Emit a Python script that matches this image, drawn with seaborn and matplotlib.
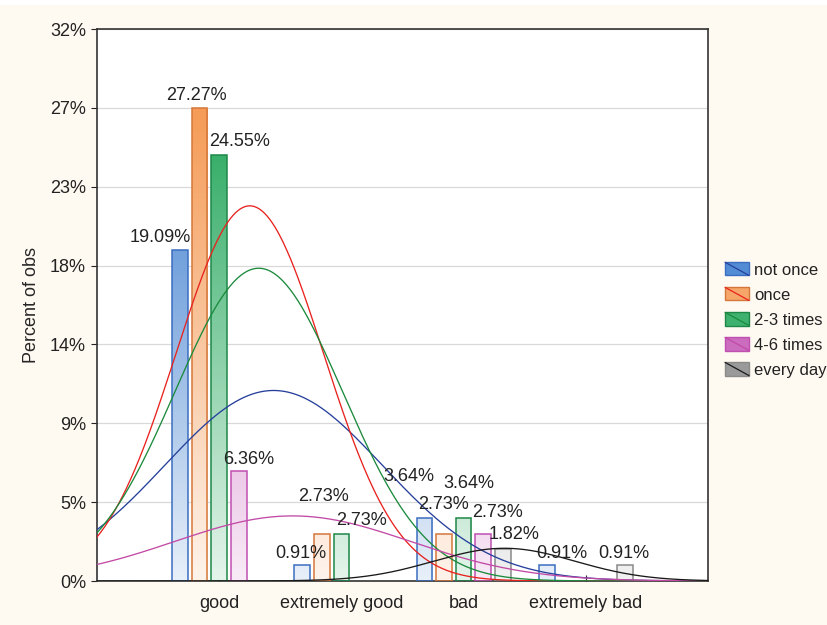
import numpy as np
import pandas as pd
import matplotlib
matplotlib.use("Agg")
import matplotlib.pyplot as plt
from matplotlib.colors import LinearSegmentedColormap, to_rgb
from matplotlib.legend_handler import HandlerBase
from matplotlib.patches import Rectangle
from matplotlib.lines import Line2D
import seaborn as sns

# -----------------------------------
# Data (percent of obs)
# -----------------------------------

categories = ["good", "extremely good", "bad", "extremely bad"]
series = ["not once", "once", "2-3 times", "4-6 times", "every day"]

not_once = [19.09, 0.91, 3.64, 0.91]
once = [27.27, 2.73, 2.73, 0.0]
two_three_times = [24.55, 2.73, 3.64, 0.0]
four_six_times = [6.36, 0.0, 2.73, 0.0]
every_day = [0.0, 0.0, 1.82, 0.91]

n_obs = 110
count_ticks = [0, 5, 10, 15, 20, 25, 30, 35]

# -----------------------------------
# Styles
# -----------------------------------

fill_colors = ["#3f7fcf", "#f59c58", "#28a85e", "#c65cb8", "#8f8f8f"]
edge_colors = ["#3b6dc0", "#d5773a", "#1e8748", "#c04fb2", "#8a8a8a"]
curve_colors = ["#26409c", "#e8231f", "#1b8a3c", "#c24aa6", "#1a1a1a"]
font_size = 13

# label offsets in pixels (dx, dy above bar top)
label_offsets = {
    (0, 0): (-20, 12), (1, 0): (-3, 12), (2, 0): (20, 14), (3, 0): (10, 11),
    (0, 1): (-1, 12), (1, 1): (2, 37), (2, 1): (20, 13),
    (0, 2): (-16, 41), (1, 2): (-1, 29), (2, 2): (5, 34), (3, 2): (14, 21),
    (4, 2): (11, 15),
    (0, 3): (15, 12), (4, 3): (-1, 12),
}

values = [not_once, once, two_three_times, four_six_times, every_day]

df = pd.DataFrame({
    "category": np.tile(categories, len(series)),
    "series": np.repeat(series, len(categories)),
    "pct": np.concatenate(values),
})

sns.set_style("white")
plt.rcParams["font.family"] = ["Liberation Sans", "DejaVu Sans"]
plt.rcParams["text.color"] = "#222222"

fig = plt.figure(figsize=(8.27, 6.25), dpi=100, facecolor="#fffaf1")
fig.patches.append(Rectangle((0, 0.992), 1, 0.01, transform=fig.transFigure,
                             facecolor="white", edgecolor="none"))
ax = fig.add_axes([97 / 827, 44 / 625, 611 / 827, 552 / 625])
ax.set_facecolor("white")

ymax = count_ticks[-1] / n_obs * 100

sns.barplot(
    data=df, x="category", y="pct", hue="series",
    order=categories, hue_order=series,
    gap=0.2, ax=ax, legend=False, zorder=2,
)

# -----------------------------------
# Gradient bars
# -----------------------------------

grad = np.linspace(0, 1, 256).reshape(-1, 1)
alpha_scale = np.clip(grad * ymax / 27.0, 0, 1)

for i, container in enumerate(ax.containers):
    base = np.array(to_rgb(fill_colors[i]))
    cmap = LinearSegmentedColormap.from_list(
        "g%d" % i, [0.88 * np.ones(3) + 0.12 * base, base])
    for j, bar in enumerate(container):
        h = bar.get_height()
        if h <= 0:
            bar.set_visible(False)
            continue
        x0 = bar.get_x()
        w = bar.get_width()
        bar.set_facecolor("none")
        bar.set_edgecolor(edge_colors[i])
        bar.set_linewidth(1.1)
        bar.set_zorder(3)
        im = ax.imshow(alpha_scale, extent=[x0, x0 + w, 0, ymax],
                       origin="lower", aspect="auto", cmap=cmap,
                       vmin=0, vmax=1, zorder=2)
        im.set_clip_path(bar)

        dx, dy = label_offsets.get((i, j), (0, 12))
        ax.annotate(
            "%.2f%%" % h, xy=(x0 + w / 2, h),
            xytext=(dx * 0.72, dy * 0.72), textcoords="offset points",
            ha="center", va="center", fontsize=font_size, color="#222222",
            zorder=6,
        )

# -----------------------------------
# Normal fit curves
# -----------------------------------

pos = np.arange(len(categories))
xs = np.linspace(-1, 4, 500)

for i, vals in enumerate(values):
    w = np.array(vals)
    total = w.sum()
    n = total * n_obs / 100
    mean = (w * pos).sum() / total
    var = (w * (pos - mean) ** 2).sum() / total * n / (n - 1)
    sd = np.sqrt(var)
    ys = total * np.exp(-0.5 * ((xs - mean) / sd) ** 2) / (sd * np.sqrt(2 * np.pi))
    sns.lineplot(x=xs, y=ys, color=curve_colors[i], linewidth=0.95,
                 ax=ax, zorder=5)

# -----------------------------------
# Axes
# -----------------------------------

ax.set_xlim(-1, 4)
ax.set_ylim(0, ymax)

tick_pos = [c / n_obs * 100 for c in count_ticks]
ax.set_yticks(tick_pos)
ax.set_yticklabels(["%d%%" % round(t) for t in tick_pos])
ax.yaxis.grid(True, color="#d9d9d9", linewidth=0.9)
ax.set_axisbelow(True)

ax.tick_params(axis="y", direction="out", length=4, width=0.8, pad=4,
               labelsize=font_size, colors="#222222", left=True)
ax.tick_params(axis="x", direction="in", length=4, width=0.8, pad=10,
               labelsize=font_size, colors="#222222", bottom=True)

ax.set_xlabel("")
ax.set_ylabel("Percent of obs", fontsize=font_size, labelpad=7)

for side in ["left", "bottom", "top", "right"]:
    ax.spines[side].set_visible(True)
    ax.spines[side].set_color("#333333")
    ax.spines[side].set_linewidth(1.2)

# -----------------------------------
# Legend
# -----------------------------------


class SeriesKey:

    def __init__(self, fill, edge, line):
        self.fill = fill
        self.edge = edge
        self.line = line


class SeriesKeyHandler(HandlerBase):

    def create_artists(self, legend, orig_handle, xdescent, ydescent,
                       width, height, fontsize, trans):
        rect = Rectangle((-xdescent, -ydescent), width, height,
                         facecolor=orig_handle.fill,
                         edgecolor=orig_handle.edge, linewidth=1.0,
                         transform=trans)
        line = Line2D([-xdescent, -xdescent + width],
                      [-ydescent + height, -ydescent],
                      color=orig_handle.line, linewidth=0.9, transform=trans)
        return [rect, line]


handles = []
for i in range(len(series)):
    base = np.array(to_rgb(fill_colors[i]))
    handles.append(SeriesKey(0.1 + 0.9 * base, edge_colors[i], curve_colors[i]))

fig.legend(
    handles, series, handler_map={SeriesKey: SeriesKeyHandler()},
    loc="center left", bbox_to_anchor=(725 / 827, 1 - 320 / 625),
    frameon=False, fontsize=12, handlelength=1.44, handleheight=0.84,
    handletextpad=0.3, labelspacing=0.58, borderpad=0, borderaxespad=0,
)

fig.savefig("out.png", dpi=100, facecolor=fig.get_facecolor())
